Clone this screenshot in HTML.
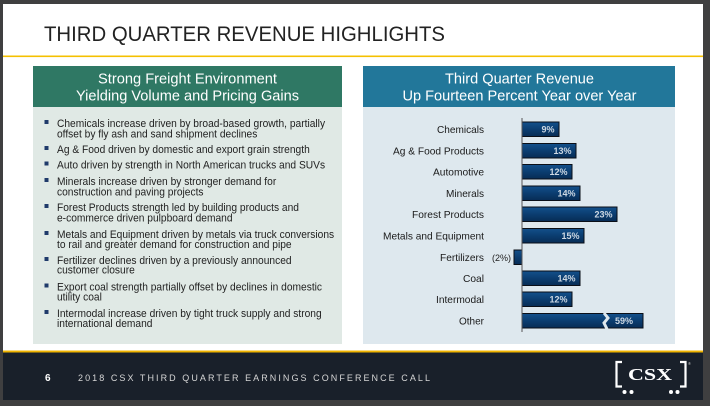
<!DOCTYPE html>
<html><head><meta charset="utf-8"><style>
html,body{margin:0;padding:0;background:#404040;}
svg{display:block;}
text{font-family:"Liberation Sans",Arial,sans-serif;}
</style></head><body>
<svg width="710" height="406" viewBox="0 0 710 406" xmlns="http://www.w3.org/2000/svg">
<rect x="0" y="0" width="710" height="406" fill="#3f3f40"/>
<rect x="3" y="4" width="700" height="348" fill="#ffffff"/>
<text x="44" y="41" font-size="21" fill="#222" textLength="401" lengthAdjust="spacingAndGlyphs">THIRD QUARTER REVENUE HIGHLIGHTS</text>
<rect x="3" y="55.5" width="700" height="1.6" fill="#f5c000"/>

<!-- Left panel -->
<rect x="33" y="66" width="309" height="41" fill="#2f7864"/>
<rect x="33" y="107" width="309" height="237" fill="#e0e9e5"/>
<text x="187.5" y="83.5" font-size="15" fill="#fff" text-anchor="middle" textLength="179" lengthAdjust="spacingAndGlyphs">Strong Freight Environment</text>
<text x="187.5" y="100.5" font-size="15" fill="#fff" text-anchor="middle" textLength="223" lengthAdjust="spacingAndGlyphs">Yielding Volume and Pricing Gains</text>

<g fill="#1f3a6a">
<rect x="44.5" y="120" width="4" height="4"/>
<rect x="44.5" y="146" width="4" height="4"/>
<rect x="44.5" y="161.5" width="4" height="4"/>
<rect x="44.5" y="178" width="4" height="4"/>
<rect x="44.5" y="204" width="4" height="4"/>
<rect x="44.5" y="231" width="4" height="4"/>
<rect x="44.5" y="257" width="4" height="4"/>
<rect x="44.5" y="283.5" width="4" height="4"/>
<rect x="44.5" y="310" width="4" height="4"/>
</g>
<g font-size="11" fill="#222" transform="translate(57 0) scale(0.93 1)">
<text x="0" y="127">Chemicals increase driven by broad-based growth, partially</text>
<text x="0" y="137.5">offset by fly ash and sand shipment declines</text>
<text x="0" y="153">Ag &amp; Food driven by domestic and export grain strength</text>
<text x="0" y="168.5">Auto driven by strength in North American trucks and SUVs</text>
<text x="0" y="185">Minerals increase driven by stronger demand for</text>
<text x="0" y="195.5">construction and paving projects</text>
<text x="0" y="211">Forest Products strength led by building products and</text>
<text x="0" y="221.5">e-commerce driven pulpboard demand</text>
<text x="0" y="238">Metals and Equipment driven by metals via truck conversions</text>
<text x="0" y="248">to rail and greater demand for construction and pipe</text>
<text x="0" y="264">Fertilizer declines driven by a previously announced</text>
<text x="0" y="273.5">customer closure</text>
<text x="0" y="290.5">Export coal strength partially offset by declines in domestic</text>
<text x="0" y="300.5">utility coal</text>
<text x="0" y="317">Intermodal increase driven by tight truck supply and strong</text>
<text x="0" y="327">international demand</text>
</g>

<!-- Right panel -->
<rect x="363" y="66" width="312" height="41" fill="#22779a"/>
<rect x="363" y="107" width="312" height="237" fill="#dee8ee"/>
<text x="519.5" y="83.5" font-size="15" fill="#fff" text-anchor="middle" textLength="149" lengthAdjust="spacingAndGlyphs">Third Quarter Revenue</text>
<text x="519.5" y="100.5" font-size="15" fill="#fff" text-anchor="middle" textLength="234" lengthAdjust="spacingAndGlyphs">Up Fourteen Percent Year over Year</text>

<g font-size="10.5" fill="#1a1a1a" text-anchor="end">
<text x="484" y="133" textLength="47" lengthAdjust="spacingAndGlyphs">Chemicals</text>
<text x="484" y="154.5" textLength="91" lengthAdjust="spacingAndGlyphs">Ag &amp; Food Products</text>
<text x="484" y="175.5" textLength="51" lengthAdjust="spacingAndGlyphs">Automotive</text>
<text x="484" y="197" textLength="38" lengthAdjust="spacingAndGlyphs">Minerals</text>
<text x="484" y="218" textLength="72" lengthAdjust="spacingAndGlyphs">Forest Products</text>
<text x="484" y="239.5" textLength="101" lengthAdjust="spacingAndGlyphs">Metals and Equipment</text>
<text x="484" y="261" textLength="44" lengthAdjust="spacingAndGlyphs">Fertilizers</text>
<text x="484" y="282" textLength="21" lengthAdjust="spacingAndGlyphs">Coal</text>
<text x="484" y="303" textLength="48" lengthAdjust="spacingAndGlyphs">Intermodal</text>
<text x="484" y="324.5" textLength="25" lengthAdjust="spacingAndGlyphs">Other</text>
</g>

<defs>
<linearGradient id="bg" x1="0" y1="0" x2="0" y2="1">
<stop offset="0" stop-color="#13508c"/>
<stop offset="0.5" stop-color="#0b3d70"/>
<stop offset="1" stop-color="#072c55"/>
</linearGradient>
</defs>
<g fill="url(#bg)" stroke="#0a0f18" stroke-width="1">
<rect x="522" y="122" width="37" height="14.5"/>
<rect x="522" y="143.5" width="54" height="14.5"/>
<rect x="522" y="164.5" width="50" height="14.5"/>
<rect x="522" y="186" width="58" height="14.5"/>
<rect x="522" y="207" width="95" height="14.5"/>
<rect x="522" y="228.5" width="62" height="14.5"/>
<rect x="514" y="250" width="8" height="14.5"/>
<rect x="522" y="271" width="58" height="14.5"/>
<rect x="522" y="292" width="50" height="14.5"/>
<rect x="522" y="313.5" width="121" height="14.5"/>
</g>
<polyline points="604,313 608,318 604,323 607,329" fill="none" stroke="#dee8ee" stroke-width="3"/>
<line x1="522" y1="118" x2="522" y2="332" stroke="#555" stroke-width="1"/>
<g font-size="9" fill="#cdd8e3" text-anchor="end" font-weight="bold">
<text x="554.5" y="132.5">9%</text>
<text x="571.5" y="154">13%</text>
<text x="567.5" y="175">12%</text>
<text x="575.5" y="196.5">14%</text>
<text x="612.5" y="217.5">23%</text>
<text x="579.5" y="239">15%</text>
<text x="575.5" y="281.5">14%</text>
<text x="567.5" y="302.5">12%</text>
<text x="633" y="324">59%</text>
</g>
<text x="511" y="261" font-size="9" fill="#222" text-anchor="end">(2%)</text>

<!-- Footer -->
<rect x="3" y="350.5" width="700" height="2.2" fill="#f0b400"/>
<rect x="3" y="352.5" width="700" height="47.5" fill="#19202a"/>
<text x="45" y="381" font-size="10" font-weight="bold" fill="#fff">6</text>
<text x="78" y="381" font-size="9" fill="#d6d6d6" textLength="352" lengthAdjust="spacing">2018 CSX THIRD QUARTER EARNINGS CONFERENCE CALL</text>
<g stroke="#fff" stroke-width="2.2" fill="none">
<polyline points="622,362 616.5,362 616.5,386.5 622,386.5"/>
<polyline points="680,362 685.5,362 685.5,386.5 680,386.5"/>
</g>
<text x="628" y="380" font-size="16.5" font-weight="bold" fill="#fff" textLength="44" lengthAdjust="spacingAndGlyphs" style="font-family:'Liberation Serif',serif">CSX</text>
<g fill="#fff">
<circle cx="624.5" cy="392" r="2"/>
<circle cx="631.5" cy="392" r="2"/>
<circle cx="671" cy="392" r="2"/>
<circle cx="677.5" cy="392" r="2"/>
</g>
<text x="688" y="365" font-size="4" fill="#ccc">®</text>
</svg>
</body></html>
